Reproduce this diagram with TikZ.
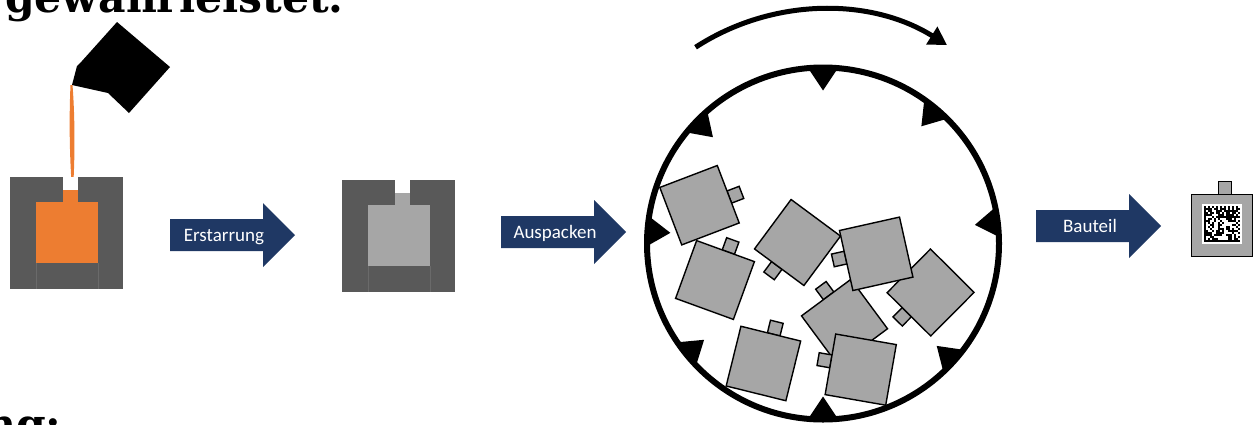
\documentclass[tikz,border=0pt]{standalone}
\usepackage{fontspec}
\setmainfont{DejaVu Serif}
\newfontfamily\labelfont{Carlito}
\usepackage{tikz}
\usetikzlibrary{arrows.meta}
\definecolor{navy}{HTML}{1F3864}
\definecolor{melt}{HTML}{ED7D31}
\definecolor{moldgray}{HTML}{595959}
\definecolor{castgray}{HTML}{A6A6A6}
\tikzset{>={Triangle[length=18pt,width=20pt]}}
\tikzset{
  partline/.style={draw=black, fill=castgray, line width=1.4pt},
  flowarrow/.style={fill=navy},
  flowlabel/.style={text=white, font=\labelfont\fontsize{19}{21}\selectfont, inner sep=0pt, anchor=base},
  headline/.style={font=\bfseries\fontsize{42.5}{45}\selectfont, inner sep=0pt, anchor=base west},
  part/.pic={
    \path[partline] (-3.5,-43.75) rectangle (9.5,-30.75); % Angussstummel
    \path[partline] (-30.75,-30.75) rectangle (30.75,30.75);
  },
}

\begin{document}
\begin{tikzpicture}[x=1pt, y=-1pt]
  \useasboundingbox (0,0) rectangle (1257,424);
  \clip (0,0) rectangle (1257,424);

  % Folientext oben und unten
  \node[headline] (oben) at (5,12) {gewährleistet.};
  \node[headline] (unten) at (-15,439) {ng:};

  % Giesspfanne und Strahl
  \fill[black] (117,22) -- (170,67) -- (129,113) -- (108,93) -- (72,85) -- (77,66) -- (82,61) -- cycle;
  \fill[melt] (70.5,85) .. controls (68.5,130) and (70.5,170) .. (72,189) -- (73,189)
              .. controls (75.5,150) and (74.5,110) .. (72.5,85) -- cycle;

  % Formen: gefuellt / erstarrt
  \foreach \mx/\my/\cast in {10/177/melt, 342/180/castgray}{
    \begin{scope}[shift={(\mx,\my)}]
      \fill[moldgray] (0,0) rectangle (113,111.5);
      \fill[white] (53,0) rectangle (68,12.5);
      \fill[\cast] (53,12.5) rectangle (68,25.5);
      \fill[\cast] (26,25) rectangle (88,86);
      \draw[moldgray!90!white, line width=0.5pt] (26,86) -- (26,111.5) (88,86) -- (88,111.5);
    \end{scope}
  }

  % Prozesspfeile
  \foreach \ax/\ay/\aname/\atext in {170/235/erst/Erstarrung, 501/232/ausp/Auspacken, 1036/226/bauteil/Bauteil}{
    \fill[flowarrow] (\ax,\ay-16) -- (\ax+93,\ay-16) -- (\ax+93,\ay-32) -- (\ax+125,\ay)
                     -- (\ax+93,\ay+32) -- (\ax+93,\ay+16) -- (\ax,\ay+16) -- cycle;
    \node[flowlabel] (\aname) at (\ax+54,\ay+6) {\atext};
  }

  % Trommel mit Bauteilen
  \coordinate (c) at (823,243.5);
  \foreach \px/\py/\pa in {699.5/205.2/-69.1, 715/280/-20, 930.6/292.5/135.2, 844.5/322.3/36.5,
                           876.2/253.8/102.6, 797.5/242.5/143.5, 763.4/363.5/-13.9, 860.7/369.6/80.1}
    \pic[rotate=\pa] at (\px,\py) {part};

  \node[circle, draw, line width=6pt, minimum size=352pt, inner sep=0pt] (drum) at (c) {};
  \foreach \w in {90,50,7,-42,-90,-141,176,136} % Mitnehmer
    \fill[shift={(drum.center)}, rotate=\w] (177,-16) -- (177,16) -- (153,0) -- cycle;

  \draw[line width=5pt, ->] ([shift={(-123:234)}]drum.center) arc[start angle=-123, end angle=-58, radius=234];

  % fertiges Bauteil mit DMC
  \pic at (1222,225.5) {part};
  \fill[white] (1201.7,204) rectangle (1241.7,244);
  \pgfmathsetseed{4711}
  \foreach \i in {0,...,17}
    \foreach \j in {0,...,17}{
      \pgfmathtruncatemacro\bit{rnd>0.5}
      \ifnum\i=0 \def\bit{1}\fi
      \ifnum\j=17 \def\bit{1}\fi
      \ifnum\j=0 \pgfmathtruncatemacro\bit{1-mod(\i,2)}\fi
      \ifnum\i=17 \pgfmathtruncatemacro\bit{mod(\j,2)}\fi
      \ifnum\bit=1 \fill (1203.7+2*\i,206+2*\j) rectangle ++(2,2);\fi
    }
\end{tikzpicture}
\end{document}
